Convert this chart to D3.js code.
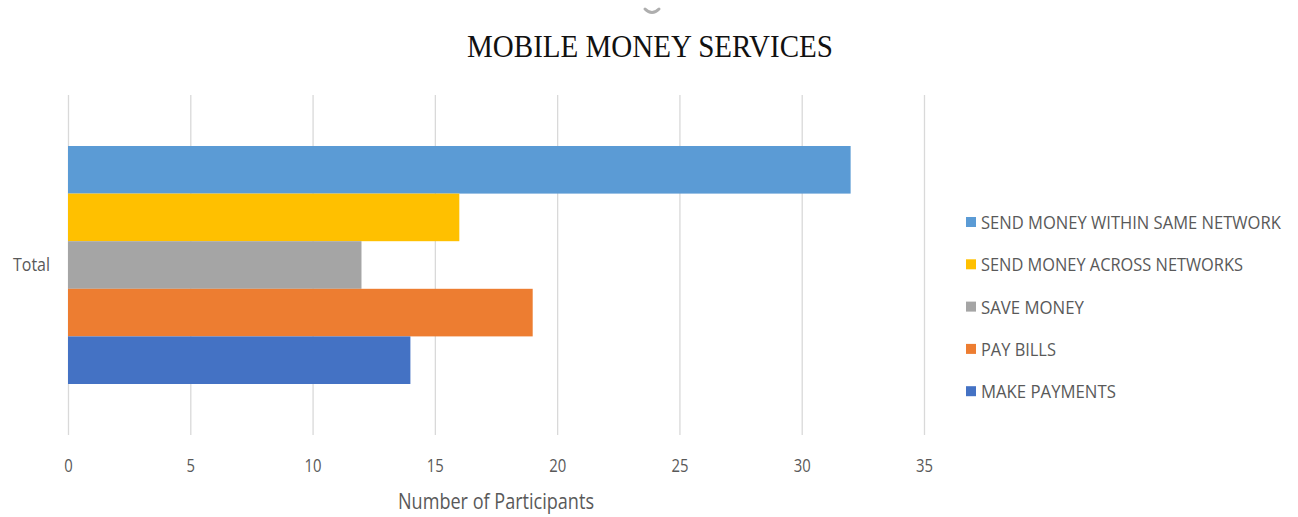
<!DOCTYPE html>
<html>
<head>
<meta charset="utf-8">
<script src="https://cdn.jsdelivr.net/npm/d3@7"></script>
<style>
  html, body { margin: 0; padding: 0; background: #fff; }
  svg { display: block; }
</style>
</head>
<body>
<svg id="chart" width="1298" height="517"></svg>
<script>
// Survey totals: how participants use mobile money
const categories = ["Total"];
const seriesNames = [
  "SEND MONEY WITHIN SAME NETWORK",
  "SEND MONEY ACROSS NETWORKS",
  "SAVE MONEY",
  "PAY BILLS",
  "MAKE PAYMENTS"
];
const seriesValues = [32, 16, 12, 19, 14];
const seriesColors = ["#5B9BD5", "#FFC000", "#A5A5A5", "#ED7D31", "#4472C4"];
const xTicks = [0, 5, 10, 15, 20, 25, 30, 35];

const svg = d3.select("#chart");
const W = 1298, H = 517;
const margin = { left: 68, right: 374, top: 95, bottom: 82 };
const plotW = W - margin.left - margin.right;   // 856
const plotH = H - margin.top - margin.bottom;   // 340

const sansFont = "'Open Sans', 'Liberation Sans', sans-serif";
const textGrey = "#595959";

// squeeze a text horizontally around its left edge to a target width
function narrowTo(sel, target) {
  sel.each(function (d, i) {
    const node = this;
    const w = typeof target === "function" ? target(d, i) : target;
    const natural = node.getComputedTextLength();
    const x0 = +node.getAttribute("x") || 0;
    const k = Math.min(1, w / natural);
    node.setAttribute("transform", `translate(${x0 * (1 - k)},0) scale(${k},1)`);
  });
}

const x = d3.scaleLinear().domain([0, 35]).range([0, plotW]);
const y = d3.scaleBand().domain(categories).range([0, plotH])
  .paddingInner(0.3).paddingOuter(0.15);
const ySeries = d3.scaleBand().domain(seriesNames)
  .range([0, y.bandwidth()]).padding(0);

// faint crescent above the title
svg.append("path")
  .attr("d", "M645,9 Q652,16 659,9")
  .attr("fill", "none")
  .attr("stroke", "#9a9a9a")
  .attr("stroke-width", 3)
  .attr("stroke-linecap", "round")
  .attr("opacity", 0.8);

// title
svg.append("text")
  .attr("x", 650).attr("y", 57)
  .attr("text-anchor", "middle")
  .attr("font-family", "'Liberation Serif', 'Times New Roman', serif")
  .attr("font-size", 32)
  .attr("fill", "#111")
  .call(narrowTo, 366)
  .text("MOBILE MONEY SERVICES")
  .call(narrowTo, 366);

const g = svg.append("g").attr("transform", `translate(${margin.left},${margin.top})`);

// vertical gridlines via the axis generator
const grid = g.append("g")
  .call(d3.axisBottom(x).tickValues(xTicks).tickSize(plotH).tickFormat(""));
grid.select(".domain").remove();
grid.selectAll(".tick line")
  .attr("stroke", "#d9d9d9")
  .attr("stroke-width", 1.3);

// bars
const bandG = g.selectAll("g.band")
  .data(categories)
  .join("g")
  .attr("class", "band")
  .attr("transform", d => `translate(0,${y(d)})`);

bandG.selectAll("rect")
  .data(seriesNames.map((name, i) => ({ name, value: seriesValues[i], color: seriesColors[i] })))
  .join("rect")
  .attr("x", x(0))
  .attr("y", d => ySeries(d.name))
  .attr("width", d => x(d.value) - x(0))
  .attr("height", ySeries.bandwidth())
  .attr("fill", d => d.color);

// x axis labels
const xAxis = g.append("g")
  .attr("transform", `translate(0,${plotH})`)
  .call(d3.axisBottom(x).tickValues(xTicks).tickSize(0).tickPadding(24));
xAxis.select(".domain").remove();
xAxis.selectAll("text")
  .attr("font-family", sansFont)
  .attr("font-size", 19)
  .attr("fill", textGrey)
  .each(function () {
    const t = d3.select(this);
    const w = t.text().length * 8.5;
    t.attr("textLength", w).attr("lengthAdjust", "spacingAndGlyphs");
  });

// y axis label
const yAxis = g.append("g")
  .call(d3.axisLeft(y).tickSize(0).tickPadding(18));
yAxis.select(".domain").remove();
yAxis.selectAll("text")
  .attr("font-family", sansFont)
  .attr("font-size", 18.5)
  .attr("fill", textGrey)
  .attr("textLength", 37)
  .attr("lengthAdjust", "spacingAndGlyphs");

// x axis title
svg.append("text")
  .attr("x", 496).attr("y", 509)
  .attr("text-anchor", "middle")
  .attr("font-family", sansFont)
  .attr("font-size", 21)
  .attr("fill", textGrey)
  .attr("textLength", 196)
  .attr("lengthAdjust", "spacingAndGlyphs")
  .text("Number of Participants");

// legend
const legendWidths = [300, 262, 103, 75, 135];
const legend = svg.append("g").attr("transform", "translate(966,222)");
const rowGap = 42.3;
const item = legend.selectAll("g")
  .data(seriesNames)
  .join("g")
  .attr("transform", (d, i) => `translate(0,${i * rowGap})`);
item.append("rect")
  .attr("x", 0).attr("y", -5)
  .attr("width", 10).attr("height", 10)
  .attr("fill", (d, i) => seriesColors[i]);
item.append("text")
  .attr("x", 15).attr("y", 7)
  .attr("font-family", sansFont)
  .attr("font-size", 18.5)
  .attr("fill", textGrey)
  .text(d => d)
  .call(narrowTo, (d, i) => legendWidths[i]);
</script>
</body>
</html>
